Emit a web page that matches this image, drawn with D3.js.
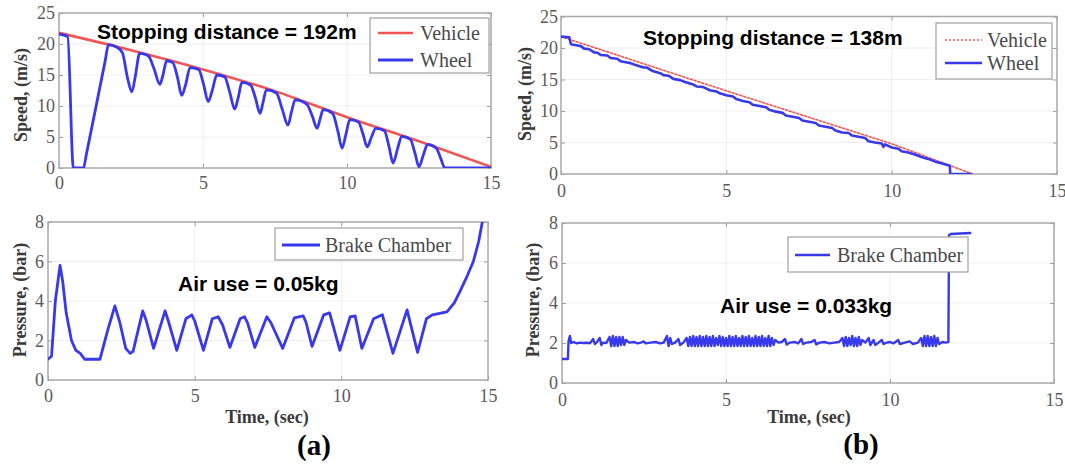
<!DOCTYPE html>
<html><head><meta charset="utf-8">
<script src="https://cdn.jsdelivr.net/npm/d3@7"></script>
<style>body{margin:0;background:#fff}</style>
</head><body><svg id="c" width="1065" height="466"></svg>
<script>
const timeTicks=[0,5,10,15];
const speedTicks=[0,5,10,15,20,25];
const pressureTicks=[0,2,4,6,8];

const vehicleA=[[0,21.8],[2.5,19.0],[5,15.9],[7.5,12.4],[10,8.2],[12.5,4.3],[15,0.2]];
const wheelA=[[0,21.6],[0.3,21.2],[0.5,0],[0.85,0],[0.95,2.2],[1.6,17.2],[1.72,19.9],[2.0,19.5],[2.2,18.6],[2.38,14.5],[2.53,12.3],[2.65,14.8],[2.8,18.5],[3.1,18.1],[3.3,16.0],[3.5,13.5],[3.6,14.8],[3.74,17.3],[3.95,17.0],[4.12,14.5],[4.26,11.7],[4.4,13.5],[4.55,16.2],[4.85,15.9],[5.02,13.5],[5.18,10.7],[5.32,12.5],[5.48,15.0],[5.75,14.7],[5.93,12.2],[6.1,9.5],[6.22,11.3],[6.35,13.8],[6.65,13.4],[6.82,11.3],[6.98,8.8],[7.08,10.5],[7.2,12.6],[7.55,12.1],[7.75,9.5],[7.95,6.9],[8.07,9.0],[8.2,11.0],[8.6,10.3],[8.8,8.3],[8.96,6.4],[9.06,7.8],[9.17,9.4],[9.5,8.8],[9.68,6.0],[9.83,3.2],[9.96,5.4],[10.1,7.8],[10.4,7.4],[10.56,5.4],[10.7,3.4],[10.85,5.0],[11.0,6.4],[11.3,6.0],[11.46,3.4],[11.6,0.8],[11.75,3.0],[11.9,5.1],[12.2,4.6],[12.36,2.4],[12.5,0.2],[12.65,2.1],[12.8,3.8],[13.1,3.2],[13.25,1.6],[13.4,0],[15,0]];
const pressureA=[[0,1.05],[0.12,1.2],[0.25,4.0],[0.41,5.8],[0.5,5.0],[0.62,3.4],[0.8,2.0],[0.95,1.5],[1.1,1.35],[1.25,1.05],[1.77,1.05],[2.05,2.6],[2.28,3.75],[2.45,2.9],[2.65,1.6],[2.8,1.35],[2.9,1.45],[3.23,3.5],[3.35,3.0],[3.6,1.6],[3.99,3.5],[4.1,3.0],[4.39,1.5],[4.7,3.1],[4.9,3.3],[5.0,3.0],[5.3,1.5],[5.6,3.1],[5.8,3.2],[5.95,2.8],[6.2,1.65],[6.55,3.1],[6.7,3.2],[6.8,2.9],[7.05,1.65],[7.46,3.2],[7.6,2.9],[8.0,1.6],[8.4,3.15],[8.7,3.25],[8.8,2.9],[9.0,1.7],[9.4,3.3],[9.6,3.4],[9.95,1.5],[10.3,3.2],[10.47,3.25],[10.7,1.6],[11.1,3.1],[11.4,3.3],[11.76,1.35],[12.24,3.55],[12.6,1.4],[12.9,3.1],[13.1,3.3],[13.6,3.45],[13.85,3.9],[14.05,4.5],[14.3,5.3],[14.5,6.0],[14.68,7.0],[14.82,8.1],[14.9,9]];

const vehicleB=[[0,21.8],[5,13.2],[10,4.8],[12.45,0]];
const wheelB=[[0,21.8],[0.25,21.7],[0.3,20.6],[0.5,20.4],[0.6,20.3],[0.7,19.9],[0.85,19.8],[1.0,19.3],[1.1,19.25],[1.2,18.9],[1.4,18.8],[1.5,18.4],[1.7,18.3],[1.8,17.9],[2.0,17.7],[2.1,17.6],[2.25,17.3],[2.5,16.9],[2.6,16.9],[2.75,16.4],[3.0,16.0],[3.1,15.7],[3.25,15.6],[3.4,15.1],[3.6,14.9],[3.75,14.6],[4.0,14.2],[4.1,13.9],[4.3,13.8],[4.5,13.3],[4.7,13.1],[4.8,12.8],[5.0,12.5],[5.2,12.3],[5.3,11.9],[5.5,11.6],[5.7,11.4],[5.8,11.0],[6.0,10.8],[6.2,10.6],[6.3,10.2],[6.5,9.9],[6.7,9.7],[6.8,9.3],[7.0,9.1],[7.2,8.9],[7.3,8.5],[7.5,8.3],[7.7,8.1],[7.8,7.7],[8.0,7.5],[8.2,7.3],[8.3,6.9],[8.5,6.6],[8.7,6.5],[8.8,6.1],[9.0,5.9],[9.2,5.7],[9.3,5.2],[9.5,5.0],[9.7,4.85],[9.75,4.3],[9.8,4.7],[10.0,4.2],[10.2,4.0],[10.3,3.6],[10.5,3.4],[10.7,3.1],[10.9,2.7],[11.1,2.4],[11.3,2.0],[11.5,1.7],[11.76,1.3],[11.77,0],[12.4,0]];
const pressureB=[[0,1.2],[0.18,1.2],[0.2,2.1],[0.24,2.35],[0.28,2.0],[0.35,2.05],[0.45,1.98],[0.55,2.02],[0.65,2.0],[0.75,2.01],[0.85,1.99],[0.95,2.2],[1.0,1.95],[1.05,2.02],[1.15,2.25],[1.2,1.9],[1.25,2.02],[1.35,2.0],[1.45,2.3],[1.5,1.85],[1.55,2.35],[1.6,1.85],[1.65,2.3],[1.7,1.85],[1.75,2.3],[1.8,1.9],[1.85,2.3],[1.9,1.9],[1.95,2.15],[2.05,2.02],[2.2,2.05],[2.3,1.98],[2.4,2.02],[2.5,2.08],[2.55,1.98],[2.7,2.02],[2.85,2.05],[3.0,1.98],[3.1,2.02],[3.2,2.35],[3.25,1.85],[3.3,2.25],[3.35,1.95],[3.45,2.02],[3.55,2.2],[3.6,1.9],[3.7,2.02],[3.8,2.25],[3.85,1.85],[3.9,2.3],[3.95,1.85],[4.0,2.35],[4.05,1.85],[4.1,2.3],[4.15,1.85],[4.2,2.35],[4.25,1.85],[4.3,2.3],[4.35,1.85],[4.4,2.35],[4.45,1.85],[4.5,2.3],[4.55,1.85],[4.6,2.35],[4.65,1.85],[4.7,2.25],[4.75,1.9],[4.8,2.35],[4.85,1.85],[4.9,2.3],[4.95,1.85],[5.0,2.25],[5.05,1.85],[5.1,2.35],[5.15,1.85],[5.2,2.3],[5.25,1.85],[5.3,2.35],[5.35,1.85],[5.4,2.25],[5.45,1.85],[5.5,2.35],[5.55,1.85],[5.6,2.3],[5.65,1.85],[5.7,2.35],[5.75,1.85],[5.8,2.25],[5.85,1.85],[5.9,2.35],[5.95,1.85],[6.0,2.3],[6.05,1.85],[6.1,2.35],[6.15,1.85],[6.2,2.25],[6.25,1.85],[6.3,2.35],[6.35,1.85],[6.4,2.25],[6.45,1.9],[6.5,2.15],[6.6,2.02],[6.7,2.05],[6.8,2.2],[6.85,1.92],[6.95,2.02],[7.1,2.05],[7.2,1.98],[7.3,2.2],[7.35,1.95],[7.45,2.02],[7.6,2.05],[7.7,2.15],[7.75,1.93],[7.85,2.02],[8.0,2.05],[8.15,1.98],[8.3,2.02],[8.45,2.05],[8.55,2.25],[8.6,1.85],[8.65,2.3],[8.7,1.85],[8.75,2.25],[8.8,1.9],[8.85,2.35],[8.9,1.85],[8.95,2.25],[9.0,1.85],[9.05,2.3],[9.1,1.9],[9.15,2.15],[9.25,2.02],[9.35,2.25],[9.4,1.9],[9.5,2.15],[9.55,1.9],[9.65,2.02],[9.75,2.15],[9.8,1.95],[9.9,2.02],[10.0,2.05],[10.1,1.98],[10.25,2.15],[10.3,1.95],[10.45,2.02],[10.6,2.08],[10.7,1.95],[10.85,2.02],[10.95,2.25],[11.0,1.85],[11.05,2.35],[11.1,1.85],[11.15,2.35],[11.2,1.85],[11.25,2.3],[11.3,1.85],[11.35,2.35],[11.4,1.85],[11.45,2.25],[11.5,1.95],[11.6,2.05],[11.7,2.02],[11.78,2.05],[11.8,7.4],[11.85,7.45],[12.45,7.5]];

const serif="'Liberation Serif','Times New Roman',serif";
const sans="'Liberation Sans',Arial,sans-serif";
const svg=d3.select('#c');
const BLUE='#3838ec', RED='#f25555';

function makePanel(p,id){
  const x=d3.scaleLinear().domain([0,15]).range([p.l,p.r]);
  const y=d3.scaleLinear().domain(p.yd).range([p.b,p.t]);
  const g=svg.append('g');
  g.append('clipPath').attr('id','clip'+id).append('rect')
    .attr('x',p.l).attr('y',p.t).attr('width',p.r-p.l).attr('height',p.b-p.t);
  g.append('g').selectAll('line').data(timeTicks.slice(1,-1)).join('line')
    .attr('x1',d=>x(d)).attr('x2',d=>x(d)).attr('y1',p.t).attr('y2',p.b)
    .attr('stroke','#efefef').attr('stroke-width',1);
  g.append('g').selectAll('line').data(p.yt.slice(1,-1)).join('line')
    .attr('y1',d=>y(d)).attr('y2',d=>y(d)).attr('x1',p.l).attr('x2',p.r)
    .attr('stroke','#efefef').attr('stroke-width',1);
  const style=(sel)=>{
    sel.select('.domain').remove();
    sel.selectAll('.tick line').attr('stroke','#a0a0a0').attr('stroke-width',1);
    sel.selectAll('.tick text').attr('font-family',serif).attr('font-size',18).attr('fill','#5a5a5a');
  };
  g.append('g').attr('transform',`translate(0,${p.b})`)
    .call(d3.axisBottom(x).tickValues(timeTicks).tickSize(-4).tickSizeOuter(0).tickPadding(p.xpad).tickFormat(d3.format('d'))).call(style);
  g.append('g').attr('transform',`translate(0,${p.t})`)
    .call(d3.axisTop(x).tickValues(timeTicks).tickSize(-4).tickSizeOuter(0).tickFormat('')).call(style);
  g.append('g').attr('transform',`translate(${p.l},0)`)
    .call(d3.axisLeft(y).tickValues(p.yt).tickSize(-4).tickSizeOuter(0).tickPadding(p.ypad).tickFormat(d3.format('d'))).call(style);
  g.append('g').attr('transform',`translate(${p.r},0)`)
    .call(d3.axisRight(y).tickValues(p.yt).tickSize(-4).tickSizeOuter(0).tickFormat('')).call(style);
  g.append('rect').attr('x',p.l).attr('y',p.t).attr('width',p.r-p.l).attr('height',p.b-p.t)
    .attr('fill','none').attr('stroke','#a8a8a8').attr('stroke-width',1.5);
  g.append('text').attr('transform',`translate(${p.ylx},${p.yly}) rotate(-90)`)
    .attr('text-anchor','middle').attr('font-family',serif).attr('font-weight','bold')
    .attr('font-size',18).attr('fill','#3a3a3a').text(p.ylab);
  return {x,y,g,clip:`url(#clip${id})`};
}
function drawLine(P,data,color,w,dash,curve){
  const ln=d3.line().x(d=>P.x(d[0])).y(d=>P.y(d[1])).curve(curve||d3.curveLinear);
  P.g.append('path').datum(data).attr('d',ln).attr('fill','none').attr('stroke',color)
    .attr('stroke-width',w).attr('stroke-linejoin','round').attr('stroke-linecap','round')
    .attr('stroke-dasharray',dash||null).attr('clip-path',P.clip);
}
function legend(box,items){
  const g=svg.append('g');
  g.append('rect').attr('x',box.x).attr('y',box.y).attr('width',box.w).attr('height',box.h)
    .attr('fill','#fff').attr('stroke','#a0a0a0').attr('stroke-width',1.2);
  items.forEach(it=>{
    g.append('line').attr('x1',box.lx1).attr('x2',box.lx2).attr('y1',it.y).attr('y2',it.y)
      .attr('stroke',it.color).attr('stroke-width',it.w).attr('stroke-dasharray',it.dash||null);
    g.append('text').attr('x',box.tx).attr('y',it.y+6.5).attr('font-family',serif)
      .attr('font-size',20).attr('fill','#4a4a4a').text(it.label);
  });
}
function note(x,y,txt,size,font,weight,anchor,fill){
  svg.append('text').attr('x',x).attr('y',y).attr('font-family',font).attr('font-size',size)
    .attr('font-weight',weight).attr('text-anchor',anchor||'start').attr('fill',fill||'#000').text(txt);
}

const P1=makePanel({l:59,r:491,t:13,b:168,yd:[0,25],yt:speedTicks,ylab:'Speed, (m/s)',ylx:27,yly:95,xpad:8,ypad:4},1);
const P2=makePanel({l:561,r:1057,t:16.5,b:174,yd:[0,25],yt:speedTicks,ylab:'Speed, (m/s)',ylx:531,yly:94,xpad:10,ypad:3},2);
const P3=makePanel({l:48,r:488,t:222,b:380,yd:[0,8],yt:pressureTicks,ylab:'Pressure, (bar)',ylx:26,yly:300,xpad:9,ypad:4},3);
const P4=makePanel({l:562,r:1054,t:223,b:383,yd:[0,8],yt:pressureTicks,ylab:'Pressure, (bar)',ylx:539,yly:300,xpad:10,ypad:4},4);

drawLine(P1,vehicleA,RED,2.6,null,d3.curveMonotoneX);
drawLine(P1,wheelA,BLUE,2.8,null,d3.curveMonotoneX);
drawLine(P2,vehicleB,RED,1.6,'2,2');
drawLine(P2,wheelB,BLUE,2.6);
drawLine(P3,pressureA,BLUE,2.8);
drawLine(P4,pressureB,BLUE,2.4);

legend({x:370,y:18,w:119,h:55,lx1:378,lx2:413,tx:420},[{y:33,label:'Vehicle',color:RED,w:2.6},{y:60,label:'Wheel',color:BLUE,w:2.8}]);
legend({x:936,y:23,w:116,h:56,lx1:945,lx2:982,tx:987},[{y:40,label:'Vehicle',color:RED,w:1.6,dash:'2,2'},{y:63,label:'Wheel',color:BLUE,w:2.6}]);
legend({x:275,y:228,w:188,h:32,lx1:282,lx2:320,tx:325},[{y:245,label:'Brake Chamber',color:BLUE,w:2.8}]);
legend({x:788,y:237,w:180,h:35,lx1:795,lx2:830,tx:837},[{y:255,label:'Brake Chamber',color:BLUE,w:2.4}]);

note(97,39,'Stopping distance = 192m',21,sans,'bold');
note(643,45,'Stopping distance = 138m',21,sans,'bold');
note(178,291,'Air use = 0.05kg',21,sans,'bold');
note(720,313,'Air use = 0.033kg',21,sans,'bold');
note(267,423,'Time, (sec)',18,serif,'bold','middle','#3a3a3a');
note(809,423,'Time, (sec)',18,serif,'bold','middle','#3a3a3a');
note(314,455,'(a)',29,serif,'bold','middle');
note(861,454,'(b)',29,serif,'bold','middle');
</script></body></html>
